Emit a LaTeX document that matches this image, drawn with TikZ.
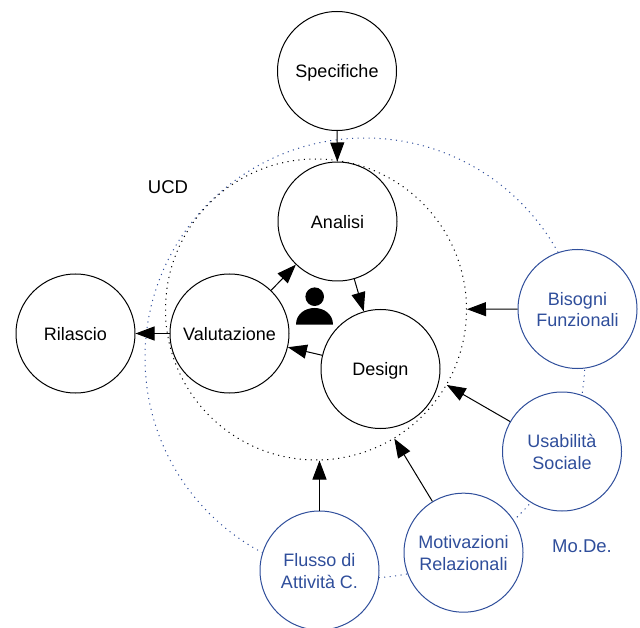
\documentclass[tikz,border=0pt]{standalone}
\usepackage{fontspec}
\setmainfont{Liberation Sans}
\usetikzlibrary{arrows.meta}
\definecolor{modeblue}{RGB}{47,78,155}

\begin{document}
\begin{tikzpicture}[
        x=1pt, y=-1pt,
        phase/.style={circle, draw, line width=1pt, fill=white, minimum size=119pt, inner sep=0pt, align=center, font=\fontsize{18}{21.5}\selectfont, text height=13.5pt, text depth=0pt},
        factor/.style={phase, draw=modeblue, text=modeblue, text height=35.5pt, text depth=0pt},
        ring/.style={circle, draw, line width=1pt, dash pattern=on 1.1pt off 4.4pt, inner sep=0pt},
        flow/.style={-{Triangle[length=19pt,width=14pt]}, line width=1pt},
        caption/.style={font=\fontsize{18.5}{21.5}\selectfont}
    ]
        \useasboundingbox (0,0) rectangle (640,628);

        % Dotted rings
        \node[ring, draw=modeblue, minimum size=440pt] (mode_ring) at (365,358) {};
        \node[ring, minimum size=301pt] (ucd_ring) at (316,309.5) {};

        % UCD cycle
        \node[phase] (specifiche) at (337,71) {Specifiche};
        \node[phase] (analisi) at (337.5,221.5) {Analisi};
        \node[phase] (design) at (380.5,369) {Design};
        \node[phase] (valutazione) at (229.5,333.5) {Valutazione};
        \node[phase] (rilascio) at (75.5,333.5) {Rilascio};

        % Mo.De. factors
        \node[factor] (bisogni) at (577.5,309) {Bisogni\\Funzionali};
        \node[factor] (usabilita) at (562,451.5) {Usabilità\\Sociale};
        \node[factor] (motivazioni) at (463.5,552.7) {Motivazioni\\Relazionali};
        \node[factor] (flusso) at (319.5,570.5) {Flusso di\\Attività C.};

        \draw[flow] (specifiche) -- (analisi);
        \draw[flow] (analisi) -- (design);
        \draw[flow] (design) -- (valutazione);
        \draw[flow] (valutazione) -- (analisi);
        \draw[flow] (valutazione) -- (rilascio);

        \draw[flow] (bisogni) -- (ucd_ring);
        \draw[flow] (usabilita) -- (ucd_ring);
        \draw[flow] (motivazioni) -- (ucd_ring);
        \draw[flow] (flusso) -- (flusso |- ucd_ring.south);

        % User icon
        \fill (314.7,296.7) circle (9.3);
        \fill (296,324.7) .. controls (296,314) and (305,308) .. (314.5,308) .. controls (324,308) and (333,314) .. (333,324.7) -- cycle;

        % Labels
        \node[caption] (ucd_label) at (168,187.5) {UCD};
        \node[caption, text=modeblue] (mode_label) at (582,546.5) {Mo.De.};
    \end{tikzpicture}
\end{document}
